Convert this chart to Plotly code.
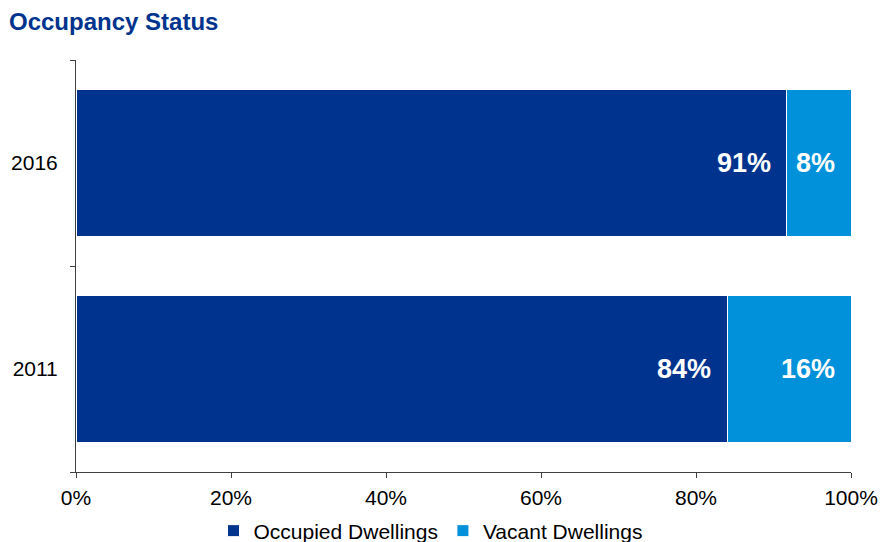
import plotly.graph_objects as go

years = ["2011", "2016"]
occupied = [84.0, 91.7]
vacant = [16.0, 8.3]
occupied_labels = ["84%", "91%"]
vacant_labels = ["16%", "8%"]
x_ticks = [0, 20, 40, 60, 80, 100]
x_tick_labels = ["0%", "20%", "40%", "60%", "80%", "100%"]

FONT = "Arial, Liberation Sans, sans-serif"
C_OCC = "#00338D"
C_VAC = "#0091DA"

fig = go.Figure()
fig.add_trace(go.Bar(
    y=years, x=occupied, orientation="h", name="Occupied Dwellings",
    marker=dict(color=C_OCC, line=dict(color="white", width=1)),
    hoverinfo="skip",
))
fig.add_trace(go.Bar(
    y=years, x=vacant, orientation="h", name="Vacant Dwellings",
    marker=dict(color=C_VAC, line=dict(color="white", width=1)),
    hoverinfo="skip",
))

annotations = []
for i, yr in enumerate(years):
    # category axis: annotation position uses category index
    annotations.append(dict(
        x=occupied[i], y=i, xref="x", yref="y", text="<b>" + occupied_labels[i] + "</b>",
        xanchor="right", yanchor="middle", xshift=-14, showarrow=False,
        font=dict(family=FONT, size=27, color="white"),
    ))
    annotations.append(dict(
        x=occupied[i] + vacant[i], y=i, xref="x", yref="y", text="<b>" + vacant_labels[i] + "</b>",
        xanchor="right", yanchor="middle", xshift=-14, showarrow=False,
        font=dict(family=FONT, size=27, color="white"),
    ))

fig.update_layout(
    width=881, height=542,
    margin=dict(l=76, r=30, t=60, b=70, autoexpand=False),
    barmode="stack", bargap=0.29,
    plot_bgcolor="white", paper_bgcolor="white",
    font=dict(family=FONT, size=21, color="black"),
    title=dict(
        text="<b>Occupancy Status</b>", x=9 / 881, xref="container", xanchor="left",
        y=1 - 22 / 542, yref="container", yanchor="middle",
        font=dict(family=FONT, size=24, color=C_OCC),
    ),
    xaxis=dict(
        range=[0, 100], tickmode="array", tickvals=x_ticks, ticktext=x_tick_labels,
        showgrid=False, zeroline=False,
        showline=True, linecolor="#404040", linewidth=1,
        ticks="outside", ticklen=5, tickcolor="#404040",
        ticklabelstandoff=2,
        tickfont=dict(size=21, color="black"),
    ),
    yaxis=dict(
        type="category", categoryorder="array", categoryarray=years,
        range=[-0.5, 1.5],
        showgrid=False, zeroline=False,
        showline=True, linecolor="#404040", linewidth=1,
        ticks="outside", ticklen=5, tickcolor="#404040", tickson="boundaries",
        ticklabelstandoff=13,
        tickfont=dict(size=21, color="black"),
    ),
    legend=dict(
        orientation="h", xref="container", x=0.5 - 10 / 881, xanchor="center",
        yref="container", y=11 / 542, yanchor="middle",
        font=dict(size=21, color="black"), traceorder="normal",
        itemwidth=30, bgcolor="rgba(0,0,0,0)",
    ),
    annotations=annotations,
    showlegend=True,
)

fig.write_html("out.html", config={"displayModeBar": False},
               post_script="document.body.style.margin='0';")
